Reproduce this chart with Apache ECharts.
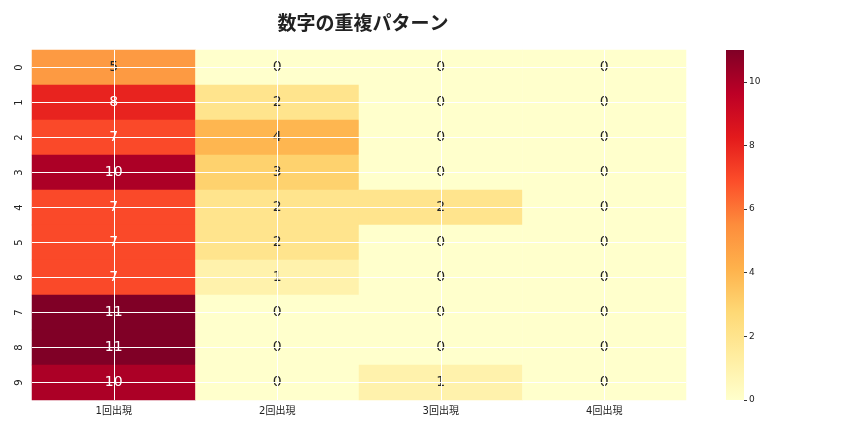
<!DOCTYPE html>
<html>
<head>
<meta charset="utf-8">
<script src="https://cdn.jsdelivr.net/npm/echarts@6/dist/echarts.min.js"></script>
<style>
  html, body { margin: 0; padding: 0; background: #fff; }
  #main { width: 864px; height: 432px; }
</style>
</head>
<body>
<div id="main"></div>
<script>
// 出現回数ごとの件数（行 0〜9）
var digits = ['0', '1', '2', '3', '4', '5', '6', '7', '8', '9'];
var columns = ['1回出現', '2回出現', '3回出現', '4回出現'];
var once   = [5, 8, 7, 10, 7, 7, 7, 11, 11, 10];
var twice  = [0, 2, 4, 3, 2, 2, 1, 0, 0, 0];
var thrice = [0, 0, 0, 0, 2, 0, 0, 0, 0, 1];
var four   = [0, 0, 0, 0, 0, 0, 0, 0, 0, 0];
var colorTicks = [0, 2, 4, 6, 8, 10];
var palette = ['#ffffcc', '#ffeda0', '#fed976', '#feb24c', '#fd8d3c', '#fc4e2a', '#e31a1c', '#bd0026', '#800026'];

var cols = [once, twice, thrice, four];
var cells = [];
for (var c = 0; c < cols.length; c++) {
    for (var r = 0; r < digits.length; r++) {
        cells.push([c, r, cols[c][r]]);
    }
}

// カラーバー用グラデーション（下が0、上が11）
var stops = palette.map(function (col, i) {
    return { offset: 1 - i / (palette.length - 1), color: col };
}).reverse();

var font = '"DejaVu Sans", "Noto Sans CJK JP", sans-serif';
var myChart = echarts.init(document.getElementById('main'));
var option = {
    backgroundColor: '#fff',
    animation: false,
    title: {
        text: '数字の重複パターン',
        left: 358,
        textAlign: 'center',
        top: 8,
        textStyle: { fontFamily: '"Noto Sans CJK JP", sans-serif', fontSize: 19, fontWeight: 'bold', color: '#222' }
    },
    grid: [
        { left: 32, right: 178, top: 50, bottom: 32 },
        { left: 726, width: 18, top: 50, height: 350 }
    ],
    graphic: [
        {
            type: 'rect',
            z: 0,
            silent: true,
            shape: { x: 726, y: 50, width: 18, height: 350 },
            style: { fill: new echarts.graphic.LinearGradient(0, 0, 0, 1, stops) }
        }
    ],
    xAxis: [
        {
            type: 'category',
            data: columns,
            gridIndex: 0,
            axisLine: { show: false },
            axisTick: { alignWithLabel: true, length: 4, lineStyle: { color: '#333' } },
            axisLabel: { fontFamily: font, fontSize: 10, color: '#222', margin: 6 },
            splitLine: { show: false }
        },
        { type: 'value', gridIndex: 1, show: false, min: 0, max: 1 }
    ],
    yAxis: [
        {
            type: 'category',
            data: digits,
            inverse: true,
            gridIndex: 0,
            axisLine: { show: false },
            axisTick: { alignWithLabel: true, length: 4, lineStyle: { color: '#333' } },
            axisLabel: { fontFamily: font, fontSize: 10, color: '#222', rotate: 90, margin: 8 },
            splitLine: { show: false }
        },
        {
            type: 'value',
            gridIndex: 1,
            position: 'right',
            offset: 0,
            z: 10,
            min: 0,
            max: 11,
            axisLine: { show: false, onZero: false },
            axisTick: { show: true, inside: false, length: 3, customValues: colorTicks, lineStyle: { color: '#333' } },
            axisLabel: { fontFamily: font, fontSize: 9, color: '#222', margin: 5, customValues: colorTicks },
            splitLine: { show: false }
        }
    ],
    visualMap: {
        type: 'continuous',
        show: false,
        min: 0,
        max: 11,
        seriesIndex: 0,
        inRange: { color: palette }
    },
    series: [
        {
            type: 'heatmap',
            xAxisIndex: 0,
            yAxisIndex: 0,
            data: cells,
            itemStyle: { borderWidth: 0 },
            label: {
                show: true,
                formatter: function (p) {
                    return p.value[2] >= 6 ? '{w|' + p.value[2] + '}' : '{d|' + p.value[2] + '}';
                },
                rich: {
                    w: { color: '#ffffff', fontSize: 14, fontFamily: font },
                    d: { color: '#262626', fontSize: 14, fontFamily: font }
                }
            },
            markLine: {
                silent: true,
                symbol: 'none',
                animation: false,
                label: { show: false },
                lineStyle: { color: '#ffffff', width: 1, type: 'solid' },
                data: columns.map(function (c) { return { xAxis: c }; })
                    .concat(digits.map(function (d) { return { yAxis: d }; }))
            }
        }
    ]
};
myChart.setOption(option);
</script>
</body>
</html>
